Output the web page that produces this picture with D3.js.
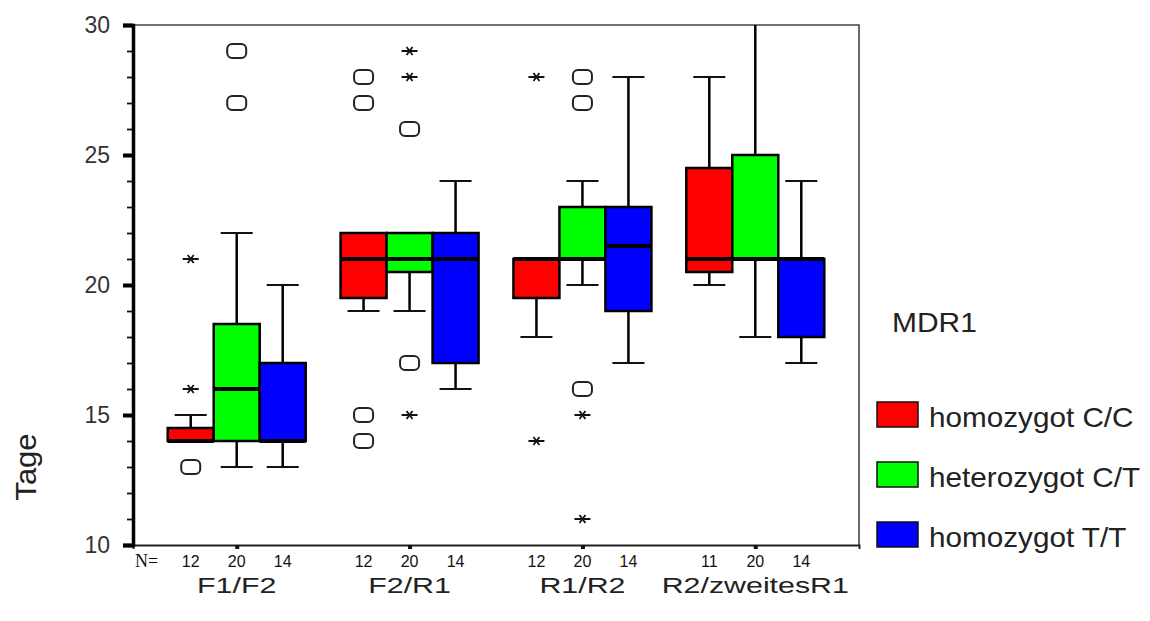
<!DOCTYPE html>
<html>
<head>
<meta charset="utf-8">
<style>
    body { margin: 0; background: #fff; }
    text { font-family: "Liberation Sans", Arial, sans-serif; fill: #111; }
</style>
</head>
<body>
    <div class="graph"></div>

    <script src="https://cdn.jsdelivr.net/npm/d3@7"></script>
    <script>
        // groups on the x axis, genotypes inside each group
        var groups = ['F1/F2', 'F2/R1', 'R1/R2', 'R2/zweitesR1']
        var genotypes = ['homozygot C/C', 'heterozygot C/T', 'homozygot T/T']
        var colors = ['#ff0000', '#00ff00', '#0000ff']
        var counts = [[12, 20, 14], [12, 20, 14], [12, 20, 14], [11, 20, 14]]

        // box statistics, [group][genotype]
        var lower = [[14, 13, 13], [19, 19, 16], [18, 20, 17], [20, 18, 17]]
        var q1 = [[14, 14, 14], [19.5, 20.5, 17], [19.5, 21, 19], [20.5, 21, 18]]
        var median = [[14, 16, 14], [21, 21, 21], [21, 21, 21.5], [21, 21, 21]]
        var q3 = [[14.5, 18.5, 17], [22, 22, 22], [21, 23, 23], [24.5, 25, 21]]
        var upper = [[15, 22, 20], [22, 22, 24], [21, 24, 28], [28, 30, 24]]

        // outliers (o) and extremes (*)
        var outliers = [[[13], [27, 29], []], [[14, 15, 27, 28], [17, 26], []], [[], [16, 27, 28], []], [[], [], []]]
        var extremes = [[[16, 21], [], []], [[], [15, 28, 29], []], [[14, 28], [11, 15], []], [[], [], []]]

        var yTicks = [10, 15, 20, 25, 30]

        var width = 1150,
            height = 621,
            pLeft = 133, pRight = 859, pTop = 25, pBottom = 545,
            bw = 46

        var svg = d3.select('.graph').append('svg')
            .attr('width', width)
            .attr('height', height)

        var x = d3.scalePoint()
            .domain(groups)
            .range([pLeft, pRight])
            .padding(0.6)

        var y = d3.scaleLinear()
            .domain([10, 30])
            .range([pBottom, pTop])

        function bx(g, k) {
            return x(groups[g]) + (k - 1) * bw
        }

        // frame (top and right)
        svg.append('path')
            .attr('d', 'M' + pLeft + ',' + pTop + 'H' + pRight + 'V' + pBottom)
            .attr('fill', 'none')
            .attr('stroke', '#444')
            .attr('stroke-width', 1.6)

        // bottom axis with small ticks at the group centres
        var xAxis = svg.append('g')
            .attr('transform', 'translate(0,' + pBottom + ')')
            .call(d3.axisBottom(x).tickSize(4).tickFormat(''))
        xAxis.select('.domain').attr('stroke', '#222').attr('stroke-width', 2)
        xAxis.selectAll('.tick line').attr('stroke', '#111').attr('stroke-width', 4)

        // minor ticks
        var yMinor = svg.append('g')
            .attr('transform', 'translate(' + pLeft + ',0)')
            .call(d3.axisLeft(y).ticks(20).tickSize(6).tickFormat(''))
        yMinor.select('.domain').remove()
        yMinor.selectAll('.tick line').attr('stroke', '#111').attr('stroke-width', 1.8)

        var yAxis = svg.append('g')
            .attr('transform', 'translate(' + pLeft + ',0)')
            .call(d3.axisLeft(y).tickValues(yTicks).tickSize(10).tickPadding(13))
        yAxis.select('.domain').attr('stroke', '#000').attr('stroke-width', 3.5)
        yAxis.selectAll('.tick line').attr('stroke', '#000').attr('stroke-width', 4)
        yAxis.selectAll('.tick text')
            .style('font-family', '"Liberation Sans", Arial, sans-serif')
            .style('font-size', '23px')
            .style('fill', '#333')

        // boxes
        groups.forEach(function (gName, g) {
            genotypes.forEach(function (gt, k) {
                var cx = bx(g, k)
                var box = svg.append('g')

                // whiskers
                if (upper[g][k] > q3[g][k]) {
                    box.append('line')
                        .attr('x1', cx).attr('x2', cx)
                        .attr('y1', y(q3[g][k])).attr('y2', y(upper[g][k]))
                        .attr('stroke', '#000').attr('stroke-width', 2.5)
                    if (upper[g][k] < 30) {
                        box.append('line')
                            .attr('x1', cx - 16).attr('x2', cx + 16)
                            .attr('y1', y(upper[g][k])).attr('y2', y(upper[g][k]))
                            .attr('stroke', '#111').attr('stroke-width', 2)
                    }
                }
                if (lower[g][k] < q1[g][k]) {
                    box.append('line')
                        .attr('x1', cx).attr('x2', cx)
                        .attr('y1', y(q1[g][k])).attr('y2', y(lower[g][k]))
                        .attr('stroke', '#000').attr('stroke-width', 2.5)
                    box.append('line')
                        .attr('x1', cx - 16).attr('x2', cx + 16)
                        .attr('y1', y(lower[g][k])).attr('y2', y(lower[g][k]))
                        .attr('stroke', '#111').attr('stroke-width', 2)
                }

                box.append('rect')
                    .attr('x', cx - bw / 2)
                    .attr('y', y(q3[g][k]))
                    .attr('width', bw)
                    .attr('height', y(q1[g][k]) - y(q3[g][k]))
                    .attr('fill', colors[k])
                    .attr('stroke', '#000')
                    .attr('stroke-width', 2.5)

                box.append('line')
                    .attr('x1', cx - bw / 2).attr('x2', cx + bw / 2)
                    .attr('y1', y(median[g][k])).attr('y2', y(median[g][k]))
                    .attr('stroke', '#000').attr('stroke-width', 4)

                // outliers
                outliers[g][k].forEach(function (v) {
                    box.append('rect')
                        .attr('x', cx - 9.5).attr('y', y(v) - 7)
                        .attr('width', 19).attr('height', 14)
                        .attr('rx', 5).attr('ry', 5)
                        .attr('fill', 'none')
                        .attr('stroke', '#222')
                        .attr('stroke-width', 2)
                })
                extremes[g][k].forEach(function (v) {
                    var yy = y(v)
                    box.append('path')
                        .attr('d', 'M' + (cx - 8) + ',' + yy + 'H' + (cx + 8) +
                            'M' + (cx - 3) + ',' + (yy - 4) + 'L' + (cx + 3) + ',' + (yy + 4) +
                            'M' + (cx + 3) + ',' + (yy - 4) + 'L' + (cx - 3) + ',' + (yy + 4))
                        .attr('fill', 'none')
                        .attr('stroke', '#111')
                        .attr('stroke-width', 1.8)
                })

                // case counts
                svg.append('text')
                    .attr('x', cx)
                    .attr('y', 567)
                    .attr('text-anchor', 'middle')
                    .style('font-size', '16px')
                    .text(counts[g][k])
            })
        })

        svg.append('text')
            .attr('x', 135)
            .attr('y', 567)
            .style('font-family', '"Liberation Serif", serif')
            .style('font-size', '18px')
            .text('N=')

        // group labels
        svg.selectAll('.cat')
            .data(groups)
            .enter().append('g')
            .attr('class', 'cat')
            .attr('transform', function (d) { return 'translate(' + x(d) + ',593) scale(1.38,1)' })
            .append('text')
            .attr('text-anchor', 'middle')
            .style('font-size', '22px')
            .style('fill', '#222')
            .text(function (d) { return d })

        // y title
        svg.append('g')
            .attr('transform', 'translate(36,467) rotate(-90) scale(1.07,1)')
            .append('text')
            .attr('text-anchor', 'middle')
            .style('font-size', '29px')
            .style('fill', '#222')
            .text('Tage')

        // legend
        svg.append('g')
            .attr('transform', 'translate(892,332) scale(1.07,1)')
            .append('text')
            .style('font-size', '28px')
            .style('fill', '#222')
            .text('MDR1')

        var legend = svg.selectAll('.leg')
            .data(genotypes)
            .enter().append('g')
            .attr('class', 'leg')
            .attr('transform', function (d, i) { return 'translate(877,' + (402 + i * 60) + ')' })

        legend.append('rect')
            .attr('width', 41)
            .attr('height', 25)
            .attr('fill', function (d, i) { return colors[i] })
            .attr('stroke', '#111')
            .attr('stroke-width', 1.5)

        legend.append('g')
            .attr('transform', 'translate(52,25) scale(1.06,1)')
            .append('text')
            .style('font-size', '28px')
            .style('fill', '#222')
            .text(function (d) { return d })
    </script>
</body>
</html>
